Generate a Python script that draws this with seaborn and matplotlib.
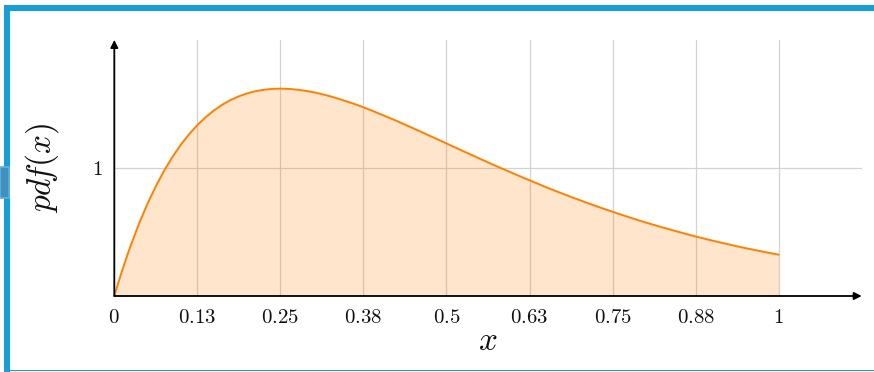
import matplotlib
matplotlib.use("Agg")
import matplotlib.pyplot as plt
from matplotlib.patches import Rectangle
import seaborn as sns
import pandas as pd

# Density sampled on [0, 1]
x_vals = [0.0, 0.00625, 0.0125, 0.01875, 0.025, 0.0375, 0.05, 0.0625, 0.075, 0.0875,
          0.1, 0.1125, 0.125, 0.1375, 0.15, 0.1625, 0.175, 0.1875, 0.2, 0.2125,
          0.225, 0.2375, 0.25, 0.2625, 0.275, 0.2875, 0.3, 0.3125, 0.325, 0.3375,
          0.35, 0.3625, 0.375, 0.3875, 0.4, 0.4125, 0.425, 0.4375, 0.45, 0.4625,
          0.475, 0.4875, 0.5, 0.5125, 0.525, 0.5375, 0.55, 0.5625, 0.575, 0.5875,
          0.6, 0.6125, 0.625, 0.6375, 0.65, 0.6625, 0.675, 0.6875, 0.7, 0.7125,
          0.725, 0.7375, 0.75, 0.7625, 0.775, 0.7875, 0.8, 0.8125, 0.825, 0.8375,
          0.85, 0.8625, 0.875, 0.8875, 0.9, 0.9125, 0.925, 0.9375, 0.95, 0.9625,
          0.975, 0.9875, 1.0]
pdf_vals = [0.000, 0.107, 0.209, 0.306, 0.398, 0.569, 0.721, 0.857, 0.979, 1.086,
            1.181, 1.263, 1.335, 1.397, 1.450, 1.494, 1.531, 1.560, 1.583, 1.600,
            1.611, 1.618, 1.620, 1.618, 1.612, 1.603, 1.592, 1.577, 1.560, 1.541,
            1.520, 1.498, 1.474, 1.449, 1.422, 1.395, 1.368, 1.339, 1.310, 1.281,
            1.251, 1.222, 1.192, 1.162, 1.132, 1.103, 1.073, 1.044, 1.015, 0.987,
            0.959, 0.931, 0.904, 0.877, 0.850, 0.824, 0.799, 0.774, 0.750, 0.726,
            0.703, 0.680, 0.658, 0.636, 0.615, 0.594, 0.574, 0.555, 0.536, 0.518,
            0.500, 0.482, 0.465, 0.449, 0.433, 0.418, 0.403, 0.388, 0.374, 0.361,
            0.348, 0.335, 0.323]

x_ticks = [0, 0.125, 0.25, 0.375, 0.5, 0.625, 0.75, 0.875, 1]
x_tick_labels = ["0", "0.13", "0.25", "0.38", "0.5", "0.63", "0.75", "0.88", "1"]
y_ticks = [1]
y_tick_labels = ["1"]

df = pd.DataFrame({"x": x_vals, "pdf": pdf_vals})

sns.set_theme(style="white")
plt.rcParams["mathtext.fontset"] = "cm"
plt.rcParams["font.family"] = ["DejaVu Serif"]

W, H = 874, 372
fig = plt.figure(figsize=(W / 100, H / 100), dpi=100)
fig.patch.set_facecolor("white")

# axes box in pixel coordinates
ax_l, ax_r, ax_t, ax_b = 114.3, 861.7, 40, 296
ax = fig.add_axes([ax_l / W, 1 - ax_b / H, (ax_r - ax_l) / W, (ax_b - ax_t) / H])
ax.set_facecolor("white")

line_color = "#ff8000"
ax.fill_between(df["x"], 0, df["pdf"], color=line_color, alpha=0.2, lw=0, zorder=2)
sns.lineplot(data=df, x="x", y="pdf", ax=ax, color=line_color, lw=1.4, zorder=3)

ax.set_xlim(0, 1.125)
ax.set_ylim(0, 2.0)

ax.set_xticks(x_ticks)
ax.set_xticklabels([f"${t}$" for t in x_tick_labels])
ax.set_yticks(y_ticks)
ax.set_yticklabels([f"${t}$" for t in y_tick_labels])
ax.tick_params(axis="both", which="major", labelsize=15, direction="inout",
               length=7, width=0.8, color="#bbbbbb", pad=5, labelcolor="#111111")

ax.grid(True, color="#d2d2d2", lw=0.9, zorder=1)
ax.set_axisbelow(True)

for s in ax.spines.values():
    s.set_visible(False)

# axis lines with arrow heads
arrow_kw = dict(arrowstyle="-|>", color="black", lw=1.3, mutation_scale=11,
                shrinkA=0, shrinkB=0)
ax.annotate("", xy=(1, 0), xytext=(0, 0), xycoords="axes fraction",
            textcoords="axes fraction", arrowprops=arrow_kw, zorder=5,
            annotation_clip=False)
ax.annotate("", xy=(0, 1), xytext=(0, 0), xycoords="axes fraction",
            textcoords="axes fraction", arrowprops=arrow_kw, zorder=5,
            annotation_clip=False)

ax.set_xlabel("$x$", fontsize=24, va="center", color="#111111")
ax.xaxis.set_label_coords(0.5, (ax_b - 341) / (ax_b - ax_t))
ax.set_ylabel(r"$pd\!f(x)$", fontsize=24, va="center", ha="center", color="#111111")
ax.yaxis.set_label_coords((42 - ax_l) / (ax_r - ax_l), 0.5)

# frame decoration around the figure
blue = "#149fd7"
def px_rect(x0, y0, x1, y1, **kw):
    fig.add_artist(Rectangle((x0 / W, 1 - y1 / H), (x1 - x0) / W, (y1 - y0) / H,
                             transform=fig.transFigure, **kw))

px_rect(4, 5, W, 11, color=blue, lw=0)
px_rect(4, 5, 10, H, color=blue, lw=0)
px_rect(4, 369.5, W, 371, color="#2a9bd0", lw=0)
px_rect(0, 167, 9, 198, facecolor="#3f90bb", edgecolor="#5ab4e4", lw=1.2)

fig.savefig("out.png", dpi=100, facecolor="white")
